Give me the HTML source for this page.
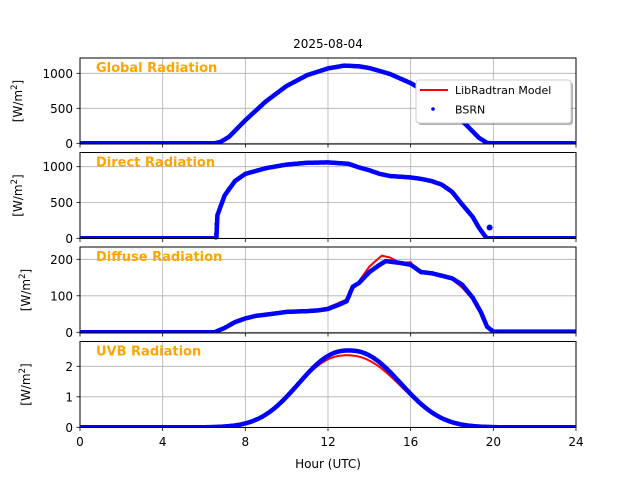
<!DOCTYPE html>
<html><head><meta charset="utf-8"><style>
body{margin:0;background:#fff}
svg{display:block;font-family:"DejaVu Sans","Liberation Sans",sans-serif}
</style></head><body>
<svg id="s" width="640" height="480" viewBox="0 0 640 480" xmlns="http://www.w3.org/2000/svg">
<rect width="640" height="480" fill="#fff"/>
<text x="328" y="48" font-size="12" text-anchor="middle">2025-08-04</text>
<g id="g"></g>
<text x="328" y="468" font-size="12" text-anchor="middle">Hour (UTC)</text>
</svg>
<script>
var NS="http://www.w3.org/2000/svg",g=document.getElementById("g");
function el(t,a,txt){var e=document.createElementNS(NS,t);for(var k in a)e.setAttribute(k,a[k]);if(txt!==undefined)e.textContent=txt;g.appendChild(e);return e;}
function X(t){return 80+t*496/24;}
function interp(p,t){if(t<=p[0][0])return p[0][1];for(var i=1;i<p.length;i++){if(t<=p[i][0]){var a=p[i-1],b=p[i];return a[1]+(b[1]-a[1])*(t-a[0])/(b[0]-a[0]);}}return p[p.length-1][1];}
function uv(c,amp,sl,sr){var a=[];for(var t=0;t<=24;t+=0.1){var s=t<c?sl:sr;var z=(t-c)/s;a.push([t,amp*Math.exp(-Math.pow(Math.abs(z),2.3)/2)]);}return a;}
var panels=[
{top:58,bot:144,y0:143.3,ys:35/500,ticks:[0,500,1000],lab:"Global Radiation",ylx:22,
 blue:[[0,0],[6.5,0],[6.8,20],[7.2,90],[8,330],[9,600],[10,820],[11,975],[12,1070],[12.8,1110],[13.5,1100],[14,1075],[15,990],[16,860],[17,690],[18,470],[18.7,260],[19.3,80],[19.7,5],[20,0],[24,0]],
 red:"same"},
{top:152.5,bot:238.5,y0:238.3,ys:35.8/500,ticks:[0,500,1000],lab:"Direct Radiation",ylx:22,
 blue:[[0,0],[6.6,0],[6.62,300],[7,600],[7.5,800],[8,900],[9,980],[10,1030],[11,1055],[12,1060],[13,1040],[13.5,990],[14,950],[14.5,900],[15,870],[16,850],[16.5,830],[17,800],[17.5,750],[18,650],[18.5,470],[19,300],[19.3,150],[19.6,30],[19.7,0],[24,0]],red:"same"},
{top:247,bot:333,y0:332.3,ys:36.5/100,ticks:[0,100,200],lab:"Diffuse Radiation",ylx:30,
 blue:[[0,0],[6.5,0],[7,12],[7.5,28],[8,38],[8.5,45],[9.5,52],[10,56],[11,58],[11.5,60],[12,64],[12.5,75],[12.9,85],[13.2,125],[13.5,135],[14,165],[14.5,185],[14.8,195],[15.5,190],[16,185],[16.5,165],[17,162],[17.5,155],[18,148],[18.5,130],[19,95],[19.4,55],[19.7,15],[20,2],[24,2]],
 red:[[0,0],[6.5,0],[7,12],[7.5,28],[8,38],[8.5,45],[9.5,52],[10,56],[11,58],[11.5,61],[12,68],[12.5,80],[12.9,90],[13.2,125],[13.5,140],[14,180],[14.6,210],[15,205],[15.5,190],[16,192],[16.2,175],[16.5,165],[17,162],[17.5,155],[18,145],[18.5,122],[19,90],[19.4,50],[19.7,15],[20,2],[24,2]]},
{top:341.5,bot:427.5,y0:427.3,ys:30.5,ticks:[0,1,2],lab:"UVB Radiation",ylx:30,
 blue:uv(13,2.52,2.3,2.4),
 red:uv(12.9,2.36,2.3,2.5)}
];
panels.forEach(function(p,i){
 for(var h=0;h<=24;h+=4)el("line",{x1:X(h),x2:X(h),y1:p.top,y2:p.bot,stroke:"#b0b0b0","stroke-width":0.8});
 p.ticks.forEach(function(v){var y=p.y0-v*p.ys;el("line",{x1:80,x2:576,y1:y,y2:y,stroke:"#b0b0b0","stroke-width":0.8});
  el("line",{x1:76.5,x2:80,y1:y,y2:y,stroke:"#000","stroke-width":0.8});
  el("text",{x:73,y:y+4.5,"font-size":12,"text-anchor":"end"},String(v));});
 var rd=p.red==="same"?p.blue:p.red;
 function path(pts){var d="";for(var t=0;t<=24.0001;t+=0.05){var v=interp(pts,t);d+=(d?"L":"M")+X(t).toFixed(1)+" "+(p.y0-v*p.ys).toFixed(1);}return d;}
 var cp="c"+i;var c=el("clipPath",{id:cp});var r=document.createElementNS(NS,"rect");r.setAttribute("x",80);r.setAttribute("y",p.top);r.setAttribute("width",496);r.setAttribute("height",p.bot-p.top);c.appendChild(r);
 if(rd)el("path",{d:path(rd),fill:"none",stroke:"#ff0000","stroke-width":2,"clip-path":"url(#"+cp+")"});
 el("path",{d:path(p.blue),fill:"none",stroke:"#0000ff","stroke-width":4.5,"stroke-linejoin":"round","clip-path":"url(#"+cp+")"});
 if(i==1){[[6.58,10],[6.58,60],[6.6,130],[6.6,200]].forEach(function(q){el("circle",{cx:X(q[0]),cy:p.y0-q[1]*p.ys,r:2,fill:"#00f"});});
  el("circle",{cx:X(19.82),cy:p.y0-150*p.ys,r:3,fill:"#00f"});}
 el("rect",{x:80,y:p.top,width:496,height:p.bot-p.top,fill:"none",stroke:"#000","stroke-width":1});
 for(var h=0;h<=24;h+=4)el("line",{x1:X(h),x2:X(h),y1:p.bot,y2:p.bot+3.5,stroke:"#000","stroke-width":0.8});
 el("text",{x:96,y:p.top+14,"font-size":13,"font-weight":"bold",fill:"#ffa500"},p.lab);
 var cy=(p.top+p.bot)/2;
 var t=el("text",{x:p.ylx,y:cy,"font-size":12,"text-anchor":"middle",transform:"rotate(-90 "+p.ylx+" "+cy+")"});
 t.innerHTML='[W/m<tspan dy="-5" font-size="8.5">2</tspan><tspan dy="5">]</tspan>';
});
for(var h=0;h<=24;h+=4)el("text",{x:X(h),y:446,"font-size":12,"text-anchor":"middle"},String(h));
el("rect",{x:418,y:82,width:155,height:43,rx:3,fill:"#000",opacity:0.3});
el("rect",{x:416,y:80,width:155,height:43,rx:3,fill:"#fff",stroke:"#ccc","stroke-width":1});
el("line",{x1:420,x2:448,y1:90,y2:90,stroke:"#f00","stroke-width":2});
el("text",{x:455,y:94,"font-size":11},"LibRadtran Model");
el("circle",{cx:433,cy:109,r:1.8,fill:"#00f"});
el("text",{x:455,y:113.5,"font-size":11},"BSRN");
</script>
</body></html>
